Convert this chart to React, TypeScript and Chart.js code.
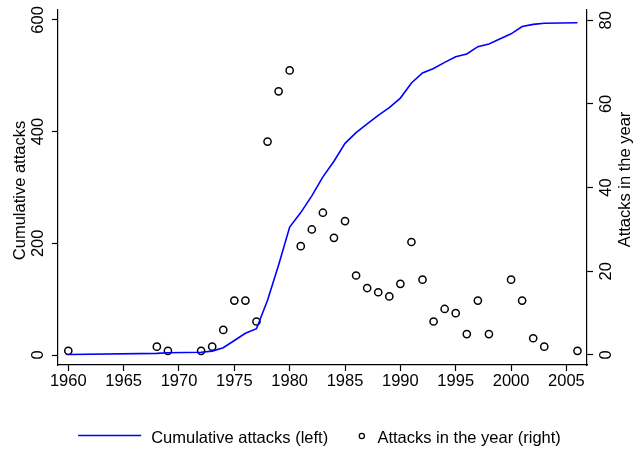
import { useEffect, useRef } from "react";
import { Chart, registerables } from "chart.js";

Chart.register(...registerables);

const FONT = '"Liberation Sans", Arial, Helvetica, sans-serif';
const FONT_SIZE = 16.5;

// Years with at least one attack
const attackYears = [
  1960, 1968, 1969, 1972, 1973, 1974, 1975, 1976, 1977, 1978,
  1979, 1980, 1981, 1982, 1983, 1984, 1985, 1986, 1987, 1988,
  1989, 1990, 1991, 1992, 1993, 1994, 1995, 1996, 1997, 1998,
  2000, 2001, 2002, 2003, 2006,
];
// Attacks in the year (right axis)
const attacksInYear = [
  1, 2, 1, 1, 2, 6, 13, 13, 8, 51,
  63, 68, 26, 30, 34, 28, 32, 19, 16, 15,
  14, 17, 27, 18, 8, 11, 10, 5, 13, 5,
  18, 13, 4, 2, 1,
];
// Cumulative attacks (left axis)
const cumulativeAttacks = [
  1, 3, 4, 5, 7, 13, 26, 39, 47, 98,
  161, 229, 255, 285, 319, 347, 379, 398, 414, 429,
  443, 460, 487, 505, 513, 524, 534, 539, 552, 557,
  575, 588, 592, 594, 595,
];

const xTicks = [1960, 1965, 1970, 1975, 1980, 1985, 1990, 1995, 2000, 2005];
const leftTicks = [0, 200, 400, 600];
const rightTicks = [0, 20, 40, 60, 80];

const leftTitle = "Cumulative attacks";
const rightTitle = "Attacks in the year";
const lineLabel = "Cumulative attacks (left)";
const scatterLabel = "Attacks in the year (right)";

const LINE_COLOR = "#0000ff";

const textPlugin = {
  id: "stataText",
  afterDraw(chart: any) {
    const ctx = chart.ctx as CanvasRenderingContext2D;
    const area = chart.chartArea;
    const yL = chart.scales.y;
    const yR = chart.scales.y1;
    ctx.save();
    ctx.fillStyle = "#000";
    ctx.font = `${FONT_SIZE}px ${FONT}`;
    ctx.textAlign = "center";
    ctx.textBaseline = "alphabetic";
    const drawRot = (text: string, x: number, y: number) => {
      ctx.save();
      ctx.translate(x, y);
      ctx.rotate(-Math.PI / 2);
      ctx.fillText(text, 0, 0);
      ctx.restore();
    };
    leftTicks.forEach((v) => drawRot(String(v), area.left - 14.7, yL.getPixelForValue(v)));
    rightTicks.forEach((v) => drawRot(String(v), area.right + 23.7, yR.getPixelForValue(v)));
    drawRot(leftTitle, 25, (area.top + area.bottom) / 2 + 3);
    drawRot(rightTitle, 630, (area.top + area.bottom) / 2 - 8);

    // legend
    ctx.textAlign = "left";
    const w1 = ctx.measureText(lineLabel).width;
    const w2 = ctx.measureText(scatterLabel).width;
    const lineLen = 63;
    const gap1 = 10;
    const gap2 = 33.7;
    const gap3 = 15.6;
    const total = lineLen + gap1 + w1 + gap2 + gap3 + w2;
    let x = chart.width / 2 + 1.5 - total / 2;
    const ly = 435.5;
    const ty = 442.5;
    ctx.strokeStyle = LINE_COLOR;
    ctx.lineWidth = 1.5;
    ctx.beginPath();
    ctx.moveTo(x, ly);
    ctx.lineTo(x + lineLen, ly);
    ctx.stroke();
    x += lineLen + gap1;
    ctx.fillText(lineLabel, x, ty);
    x += w1 + gap2;
    ctx.strokeStyle = "#000";
    ctx.lineWidth = 1.2;
    ctx.beginPath();
    ctx.arc(x, ly + 0.5, 2.6, 0, Math.PI * 2);
    ctx.stroke();
    x += gap3;
    ctx.fillText(scatterLabel, x, ty);
    ctx.restore();
  },
};

const gridOpts = {
  display: true,
  drawOnChartArea: false,
  drawTicks: true,
  tickLength: 6,
  tickColor: "#000",
  tickWidth: 1.2,
};
const borderOpts = { display: true, color: "#000", width: 1.2 };

export default function App() {
  const canvasRef = useRef<HTMLCanvasElement | null>(null);

  useEffect(() => {
    const canvas = canvasRef.current;
    if (!canvas) return;
    const chart = new Chart(canvas, {
      type: "line",
      data: {
        datasets: [
          {
            label: lineLabel,
            data: attackYears.map((y, i) => ({ x: y, y: cumulativeAttacks[i] })),
            borderColor: LINE_COLOR,
            borderWidth: 1.6,
            pointRadius: 0,
            tension: 0,
            fill: false,
            yAxisID: "y",
          },
          {
            label: scatterLabel,
            data: attackYears.map((y, i) => ({ x: y, y: attacksInYear[i] })),
            showLine: false,
            borderColor: "#000",
            pointBorderColor: "#000",
            pointBackgroundColor: "rgba(0,0,0,0)",
            pointRadius: 3.6,
            pointBorderWidth: 1.5,
            pointStyle: "circle",
            yAxisID: "y1",
          },
        ],
      },
      options: {
        animation: false,
        responsive: false,
        devicePixelRatio: 1,
        events: [],
        layout: { padding: { top: 10, bottom: 49, left: 0, right: 0 } },
        plugins: {
          legend: { display: false },
          tooltip: { enabled: false },
          title: { display: false },
        },
        scales: {
          x: {
            type: "linear",
            min: 1959.07,
            max: 2006.86,
            afterBuildTicks: (s: any) => {
              s.ticks = xTicks.map((v) => ({ value: v }));
            },
            afterFit: (s: any) => {
              s.height = 40;
            },
            grid: gridOpts,
            border: borderOpts,
            ticks: {
              color: "#000",
              font: { family: FONT, size: FONT_SIZE },
              padding: 1,
              minRotation: 0,
              maxRotation: 0,
              autoSkip: false,
              callback: (v: any) => String(v),
            },
          },
          y: {
            type: "linear",
            position: "left",
            min: -17.9,
            max: 617.7,
            afterBuildTicks: (s: any) => {
              s.ticks = leftTicks.map((v) => ({ value: v }));
            },
            afterFit: (s: any) => {
              s.width = 58;
            },
            grid: gridOpts,
            border: borderOpts,
            ticks: { display: false },
          },
          y1: {
            type: "linear",
            position: "right",
            min: -2.39,
            max: 82.44,
            afterBuildTicks: (s: any) => {
              s.ticks = rightTicks.map((v) => ({ value: v }));
            },
            afterFit: (s: any) => {
              s.width = 49;
            },
            grid: gridOpts,
            border: borderOpts,
            ticks: { display: false },
          },
        },
      },
      plugins: [textPlugin],
    } as any);
    return () => chart.destroy();
  }, []);

  return (
    <div style={{ position: "fixed", left: 0, top: 0, width: 636, height: 454, background: "#fff" }}>
      <canvas ref={canvasRef} width={636} height={454} style={{ width: 636, height: 454, display: "block" }} />
    </div>
  );
}
